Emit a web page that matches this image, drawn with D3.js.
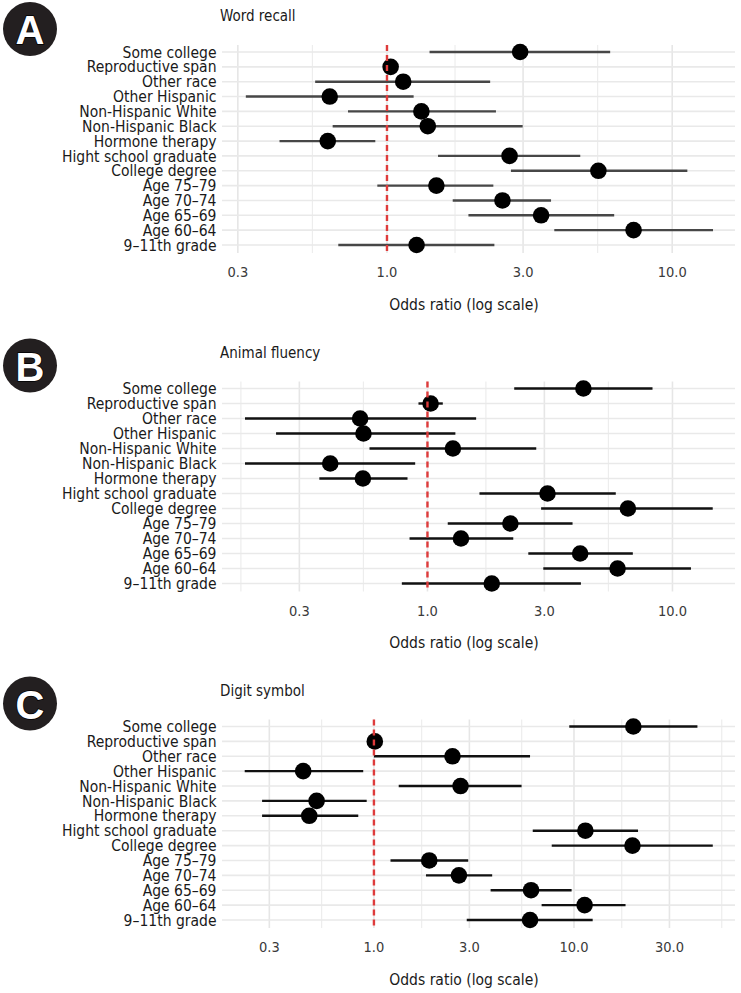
<!DOCTYPE html>
<html>
<head>
<meta charset="utf-8">
<script src="https://cdn.jsdelivr.net/npm/d3@7"></script>
<style>
  body { margin: 0; background: #fff; }
  text { font-family: "Liberation Sans Narrow", "DejaVu Sans Condensed", "Roboto", sans-serif; }
</style>
</head>
<body>
<svg id="chart"></svg>
<script>
const W = 741, H = 993

// row labels, top to bottom
const categories = [
  "Some college", "Reproductive span", "Other race", "Other Hispanic",
  "Non-Hispanic White", "Non-Hispanic Black", "Hormone therapy",
  "Hight school graduate", "College degree", "Age 75\u201379", "Age 70\u201374",
  "Age 65\u201369", "Age 60\u201364", "9\u201311th grade"
]

// A: Word recall
const wordOR = [2.93, 1.03, 1.14, 0.63, 1.32, 1.39, 0.62, 2.69, 5.51, 1.49, 2.54, 3.47, 7.32, 1.27]
const wordLo = [1.41, 0.99, 0.56, 0.32, 0.73, 0.645, 0.42, 1.51, 2.72, 0.925, 1.70, 1.93, 3.86, 0.675]
const wordHi = [6.06, 1.07, 2.30, 1.24, 2.41, 2.99, 0.91, 4.76, 11.3, 2.36, 3.76, 6.26, 13.9, 2.38]

// B: Animal fluency
const animalOR = [4.33, 1.03, 0.531, 0.548, 1.27, 0.401, 0.545, 3.09, 6.58, 2.18, 1.37, 4.2, 5.97, 1.83]
const animalLo = [2.26, 0.919, 0.18, 0.241, 0.58, 0.18, 0.362, 1.63, 2.91, 1.21, 0.845, 2.58, 2.97, 0.786]
const animalHi = [8.29, 1.155, 1.58, 1.30, 2.78, 0.891, 0.829, 5.87, 14.6, 3.91, 2.24, 6.89, 11.9, 4.23]

// C: Digit symbol
const digitOR = [19.8, 1.01, 2.47, 0.443, 2.71, 0.517, 0.475, 11.4, 19.6, 1.89, 2.66, 6.1, 11.3, 6.03]
const digitLo = [9.47, 0.99, 1.0, 0.226, 1.33, 0.276, 0.276, 6.22, 7.74, 1.21, 1.82, 3.83, 6.89, 2.91]
const digitHi = [41.4, 1.03, 6.03, 0.884, 5.47, 0.92, 0.835, 20.9, 49.4, 2.96, 3.9, 9.73, 18.1, 12.4]

const ticksAB = [0.3, 1, 3, 10]
const ticksC = [0.3, 1, 3, 10, 30]

const panels = [
  { tag: "A", title: "Word recall", or: wordOR, lo: wordLo, hi: wordHi,
    domain: [0.264, 16.6], ticks: ticksAB, top: 45, bottom: 253, barColor: "#474747" },
  { tag: "B", title: "Animal fluency", or: animalOR, lo: animalLo, hi: animalHi,
    domain: [0.145, 18.0], ticks: ticksAB, top: 381.5, bottom: 591.5, barColor: "#111" },
  { tag: "C", title: "Digit symbol", or: digitOR, lo: digitLo, hi: digitHi,
    domain: [0.174, 63.8], ticks: ticksC, top: 719.5, bottom: 928, barColor: "#111" }
]

const svg = d3.select("#chart").attr("width", W).attr("height", H)
const left = 222, right = 735

panels.forEach((p) => {
  const g = svg.append("g")
  const x = d3.scaleLog().domain(p.domain).range([left, right])
  const y = d3.scalePoint().domain(categories).range([p.top + 7, p.bottom - 8])

  // minor grid at log midpoints
  const all = [0.03, 0.1].concat(p.ticks, [100, 300])
  const minors = []
  for (let i = 1; i < all.length; i++) minors.push(Math.sqrt(all[i - 1] * all[i]))
  g.selectAll(".minor")
    .data(minors.filter((d) => x(d) >= left && x(d) <= right))
    .join("line")
    .attr("x1", (d) => x(d)).attr("x2", (d) => x(d))
    .attr("y1", p.top).attr("y2", p.bottom)
    .attr("stroke", "#ededed").attr("stroke-width", 1.2)

  g.selectAll(".major")
    .data(p.ticks)
    .join("line")
    .attr("x1", (d) => x(d)).attr("x2", (d) => x(d))
    .attr("y1", p.top).attr("y2", p.bottom)
    .attr("stroke", "#e6e6e6").attr("stroke-width", 1.6)

  g.selectAll(".hgrid")
    .data(categories)
    .join("line")
    .attr("x1", left).attr("x2", right)
    .attr("y1", (d) => y(d)).attr("y2", (d) => y(d))
    .attr("stroke", "#e9e9e9").attr("stroke-width", 1.6)

  // error bars
  g.selectAll(".ci")
    .data(categories)
    .join("line")
    .attr("x1", (d, i) => x(p.lo[i])).attr("x2", (d, i) => x(p.hi[i]))
    .attr("y1", (d) => y(d)).attr("y2", (d) => y(d))
    .attr("stroke", p.barColor).attr("stroke-width", 2.4)

  g.selectAll(".pt")
    .data(categories)
    .join("circle")
    .attr("cx", (d, i) => x(p.or[i]))
    .attr("cy", (d) => y(d))
    .attr("r", 8.3)
    .attr("fill", "#000")

  // reference line at OR = 1
  g.append("line")
    .attr("x1", x(1)).attr("x2", x(1))
    .attr("y1", p.top).attr("y2", p.bottom)
    .attr("stroke", "#de3b3b").attr("stroke-width", 2.4)
    .attr("stroke-dasharray", "6,4")

  // y labels
  g.selectAll(".ylab")
    .data(categories)
    .join("text")
    .attr("x", 216.5)
    .attr("y", (d) => y(d))
    .attr("dy", "0.36em")
    .attr("text-anchor", "end")
    .attr("font-size", 15.5)
    .attr("fill", "#1a1a1a")
    .text((d) => d)

  // x tick labels
  g.selectAll(".xlab")
    .data(p.ticks)
    .join("text")
    .attr("x", (d) => x(d))
    .attr("y", p.bottom + 19)
    .attr("dy", "0.36em")
    .attr("text-anchor", "middle")
    .attr("font-size", 14.5)
    .attr("fill", "#3a3a3a")
    .text((d) => d3.format(".1f")(d))

  g.append("text")
    .attr("x", 464)
    .attr("y", p.bottom + 51)
    .attr("dy", "0.36em")
    .attr("text-anchor", "middle")
    .attr("font-size", 15.5)
    .attr("fill", "#1a1a1a")
    .text("Odds ratio (log scale)")

  g.append("text")
    .attr("x", 220)
    .attr("y", p.top - 29)
    .attr("dy", "0.36em")
    .attr("font-size", 15)
    .attr("fill", "#1a1a1a")
    .text(p.title)

  // panel badge
  const cy = p.top - 16
  g.append("circle")
    .attr("cx", 30).attr("cy", cy).attr("r", 27)
    .attr("fill", "#231f20")
  g.append("text")
    .attr("x", 30).attr("y", cy + 1)
    .attr("dy", "0.36em")
    .attr("text-anchor", "middle")
    .attr("font-family", "Liberation Sans, Arial, sans-serif")
    .attr("font-weight", "bold")
    .attr("font-size", 40)
    .attr("fill", "#fff")
    .attr("stroke", "#000")
    .attr("stroke-width", 1.5)
    .attr("paint-order", "stroke")
    .style("font-family", "'Liberation Sans', Arial, sans-serif")
    .text(p.tag)
})
</script>
</body>
</html>
